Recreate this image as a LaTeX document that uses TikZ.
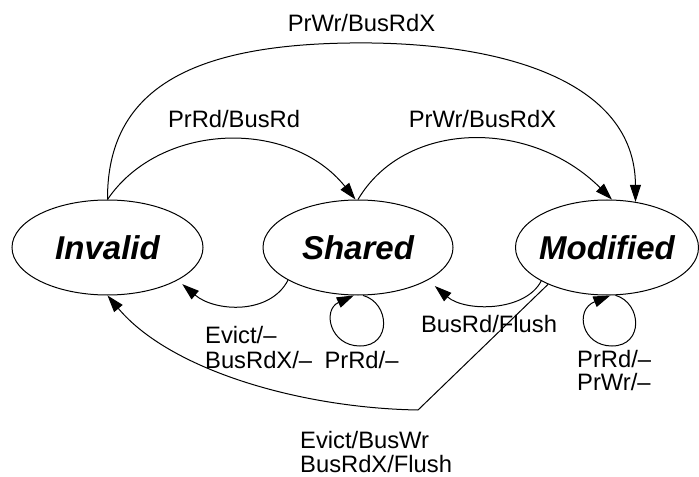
\documentclass[tikz,border=0pt]{standalone}
\usepackage{fontspec}
\setmainfont{Liberation Sans}
\usetikzlibrary{shapes.geometric,arrows.meta}
\newcommand\mystatefont{\fontsize{33bp}{33bp}\selectfont\bfseries\itshape}
\begin{document}
\begin{tikzpicture}[x=1bp,y=-1bp,
  state/.style={ellipse,draw,line width=1bp,inner sep=0pt,minimum height=95bp},
  lbl/.style={inner sep=0pt,anchor=base,font=\fontsize{23.75bp}{24bp}\selectfont},
  lblw/.style={lbl,anchor=base west},
  edge/.style={draw,line width=1bp,-{Triangle[length=17bp,width=11bp]}}
]
\useasboundingbox (0,0) rectangle (699,477);
% states
\node[state,minimum width=191bp] (I) at (107.5,247.5) {\makebox[0pt]{\mystatefont Invalid}};
\node[state,minimum width=190bp] (S) at (358,247.5) {\makebox[0pt]{\mystatefont Shared}};
\node[state,minimum width=183bp] (M) at (607,247.5) {\makebox[0pt]{\mystatefont Modified}};
% transitions above
\draw[edge] (I.north) .. controls (107,90) and (190,45) .. (350,43)
                      .. controls (500,41) and (635,80) .. (M.58);
\draw[edge] (I.north) .. controls (160,122) and (290,118) .. (S.93);
\draw[edge] (S.north) .. controls (405,120) and (530,118) .. (M.84);
% transitions below
\draw[edge,shorten >=6bp] (S.205) .. controls (270,315) and (215,312) .. (I.335);
\draw[edge,shorten >=9bp] (M.207) .. controls (525,312) and (465,312) .. (S.335);
\draw[edge] (M.212) -- (418,410) .. controls (300,408) and (170,370) .. (I.south);
% self loops
\draw[edge] (S.276) .. controls (390,303) and (392,346) .. (360,346)
                    .. controls (330,346) and (322,310) .. (S.265);
\draw[edge] (M.280) .. controls (642,303) and (644,346) .. (612,346)
                    .. controls (582,346) and (574,310) .. (M.274);
% labels
\node[lbl] (lTop) at (361.5,32) {PrWr/BusRdX};
\node[lbl] (lRd) at (234,128) {PrRd/BusRd};
\node[lbl] (lWr) at (482.5,128) {PrWr/BusRdX};
\node[lblw] (lEv1) at (205,343) {Evict/–};
\node[lblw] (lEv2) at (205,368) {BusRdX/–};
\node[lbl] (lSRd) at (361.5,368) {PrRd/–};
\node[lbl] (lFl) at (489,332) {BusRd/Flush};
\node[lblw] (lMRd) at (577,367) {PrRd/–};
\node[lblw] (lMWr) at (577,390) {PrWr/–};
\node[lblw] (lEB1) at (300,448) {Evict/BusWr};
\node[lblw] (lEB2) at (300,472) {BusRdX/Flush};
\end{tikzpicture}
\end{document}
